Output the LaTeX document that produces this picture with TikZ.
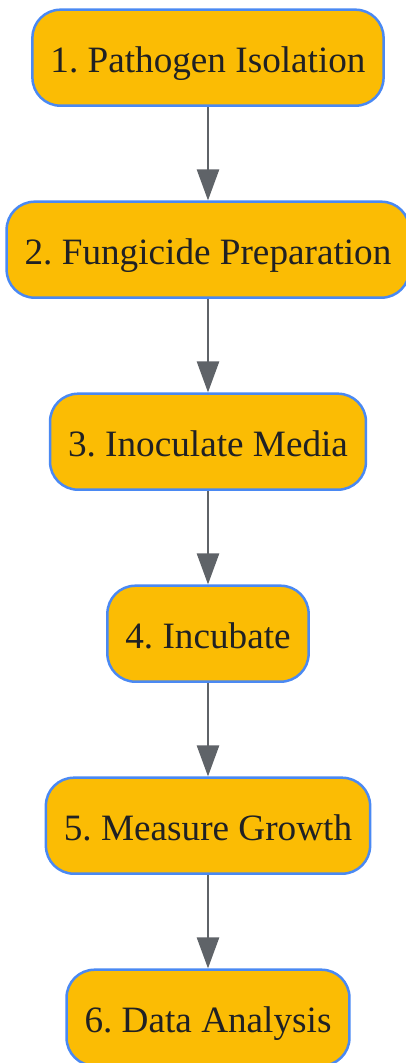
\documentclass[tikz,border=0pt]{standalone}
\usepackage{fontspec}
\setmainfont{Liberation Serif}
\usetikzlibrary{arrows.meta}
\definecolor{boxfill}{HTML}{FBBC04}
\definecolor{boxline}{HTML}{4A89F3}
\definecolor{arrowc}{HTML}{5F6368}
\definecolor{textc}{HTML}{202124}
\frenchspacing
\begin{document}
\begin{tikzpicture}[x=1pt,y=1pt,
  stepbox/.style={draw=boxline, fill=boxfill, line width=2.5pt, rounded corners=28pt,
    minimum height=96pt, inner xsep=18pt, inner ysep=0pt, text=textc,
    text height=31pt, text depth=2pt,
    font=\fontsize{37.2}{44}\selectfont},
  flow/.style={draw=arrowc, line width=2.5pt, -{Triangle[width=22pt,length=31pt]}}]
\useasboundingbox (0,0) rectangle (405,-1063);
\node[stepbox] (n1) at (208,-57.7) {1. Pathogen Isolation};
\node[stepbox] (n2) at (208,-249.7) {2. Fungicide Preparation};
\node[stepbox] (n3) at (208,-441.7) {3. Inoculate Media};
\node[stepbox] (n4) at (208,-633.7) {4. Incubate};
\node[stepbox] (n5) at (208,-825.7) {5. Measure Growth};
\node[stepbox] (n6) at (208,-1017.7) {6. Data Analysis};
\draw[flow] (n1) -- (n2);
\draw[flow] (n2) -- (n3);
\draw[flow] (n3) -- (n4);
\draw[flow] (n4) -- (n5);
\draw[flow] (n5) -- (n6);
\end{tikzpicture}
\end{document}
